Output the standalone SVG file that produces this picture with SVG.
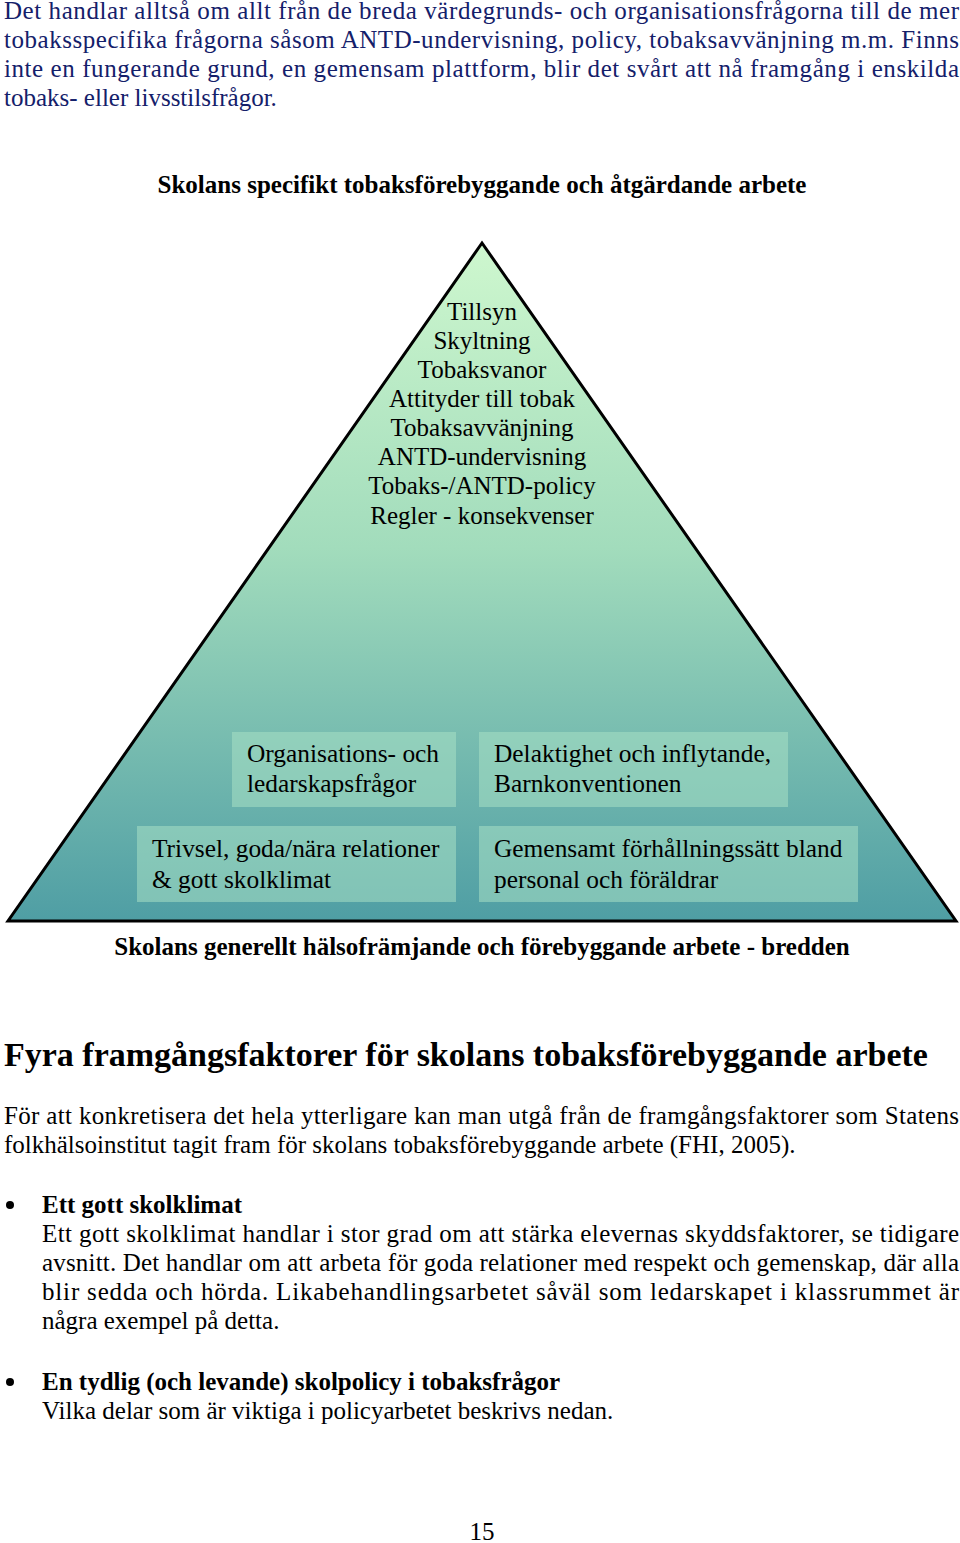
<svg xmlns="http://www.w3.org/2000/svg" width="960" height="1543" viewBox="0 0 960 1543">
<style>
text{font-family:"Liberation Serif","Times New Roman",serif;fill:#000}
.p{font-size:25px;fill:#14206a}
.b{font-size:25px}
.h{font-size:25px;font-weight:bold}
.t{font-size:25px;text-anchor:middle}
.bx{font-size:25.4px}
.box{fill:#a8e0c4;opacity:0.55}
</style>
<defs>
<linearGradient id="g" x1="0" y1="0" x2="0" y2="1">
<stop offset="0" stop-color="#cef7ce"/>
<stop offset="0.45" stop-color="#a2dcbc"/>
<stop offset="1" stop-color="#4f9ea4"/>
</linearGradient>
</defs>
<text class="p" x="4" y="19" textLength="955" lengthAdjust="spacing">Det handlar alltså om allt från de breda värdegrunds- och organisationsfrågorna till de mer</text>
<text class="p" x="4" y="48" textLength="955" lengthAdjust="spacing">tobaksspecifika frågorna såsom ANTD-undervisning, policy, tobaksavvänjning m.m. Finns</text>
<text class="p" x="4" y="77" textLength="955" lengthAdjust="spacing">inte en fungerande grund, en gemensam plattform, blir det svårt att nå framgång i enskilda</text>
<text class="p" x="4" y="106">tobaks- eller livsstilsfrågor.</text>
<text class="h" x="482" y="193" text-anchor="middle">Skolans specifikt tobaksförebyggande och åtgärdande arbete</text>
<g id="pyramid">
<polygon points="482,243 8,921 956,921" fill="url(#g)" stroke="#000" stroke-width="3"/>
<text class="t" x="482" y="320">Tillsyn</text>
<text class="t" x="482" y="349">Skyltning</text>
<text class="t" x="482" y="378">Tobaksvanor</text>
<text class="t" x="482" y="407">Attityder till tobak</text>
<text class="t" x="482" y="436">Tobaksavvänjning</text>
<text class="t" x="482" y="465">ANTD-undervisning</text>
<text class="t" x="482" y="494">Tobaks-/ANTD-policy</text>
<text class="t" x="482" y="524">Regler - konsekvenser</text>
</g>
<g id="box1"><rect class="box" x="232" y="732" width="224" height="75"/>
<text class="bx" x="247" y="762">Organisations- och</text><text class="bx" x="247" y="792">ledarskapsfrågor</text></g>
<g id="box2"><rect class="box" x="479" y="732" width="309" height="75"/>
<text class="bx" x="494" y="762">Delaktighet och inflytande,</text><text class="bx" x="494" y="792">Barnkonventionen</text></g>
<g id="box3"><rect class="box" x="137" y="826" width="319" height="76"/>
<text class="bx" x="152" y="857">Trivsel, goda/nära relationer</text><text class="bx" x="152" y="888">&amp; gott skolklimat</text></g>
<g id="box4"><rect class="box" x="479" y="826" width="379" height="76"/>
<text class="bx" x="494" y="857">Gemensamt förhållningssätt bland</text><text class="bx" x="494" y="888">personal och föräldrar</text></g>
<g id="connectors"/>
<text class="h" x="482" y="955" text-anchor="middle">Skolans generellt hälsofrämjande och förebyggande arbete - bredden</text>
<text x="4" y="1066" style="font-size:34px;font-weight:bold">Fyra framgångsfaktorer för skolans tobaksförebyggande arbete</text>
<text class="b" x="4" y="1124" textLength="955" lengthAdjust="spacing">För att konkretisera det hela ytterligare kan man utgå från de framgångsfaktorer som Statens</text>
<text class="b" x="4" y="1153">folkhälsoinstitut tagit fram för skolans tobaksförebyggande arbete (FHI, 2005).</text>
<circle cx="10" cy="1205" r="4"/>
<text class="h" x="42" y="1213">Ett gott skolklimat</text>
<text class="b" x="42" y="1242" textLength="917" lengthAdjust="spacing">Ett gott skolklimat handlar i stor grad om att stärka elevernas skyddsfaktorer, se tidigare</text>
<text class="b" x="42" y="1271" textLength="917" lengthAdjust="spacing">avsnitt. Det handlar om att arbeta för goda relationer med respekt och gemenskap, där alla</text>
<text class="b" x="42" y="1300" textLength="917" lengthAdjust="spacing">blir sedda och hörda. Likabehandlingsarbetet såväl som ledarskapet i klassrummet är</text>
<text class="b" x="42" y="1329">några exempel på detta.</text>
<circle cx="10" cy="1382" r="4"/>
<text class="h" x="42" y="1390">En tydlig (och levande) skolpolicy i tobaksfrågor</text>
<text class="b" x="42" y="1419">Vilka delar som är viktiga i policyarbetet beskrivs nedan.</text>
<text class="b" x="482" y="1540" text-anchor="middle">15</text>
</svg>
